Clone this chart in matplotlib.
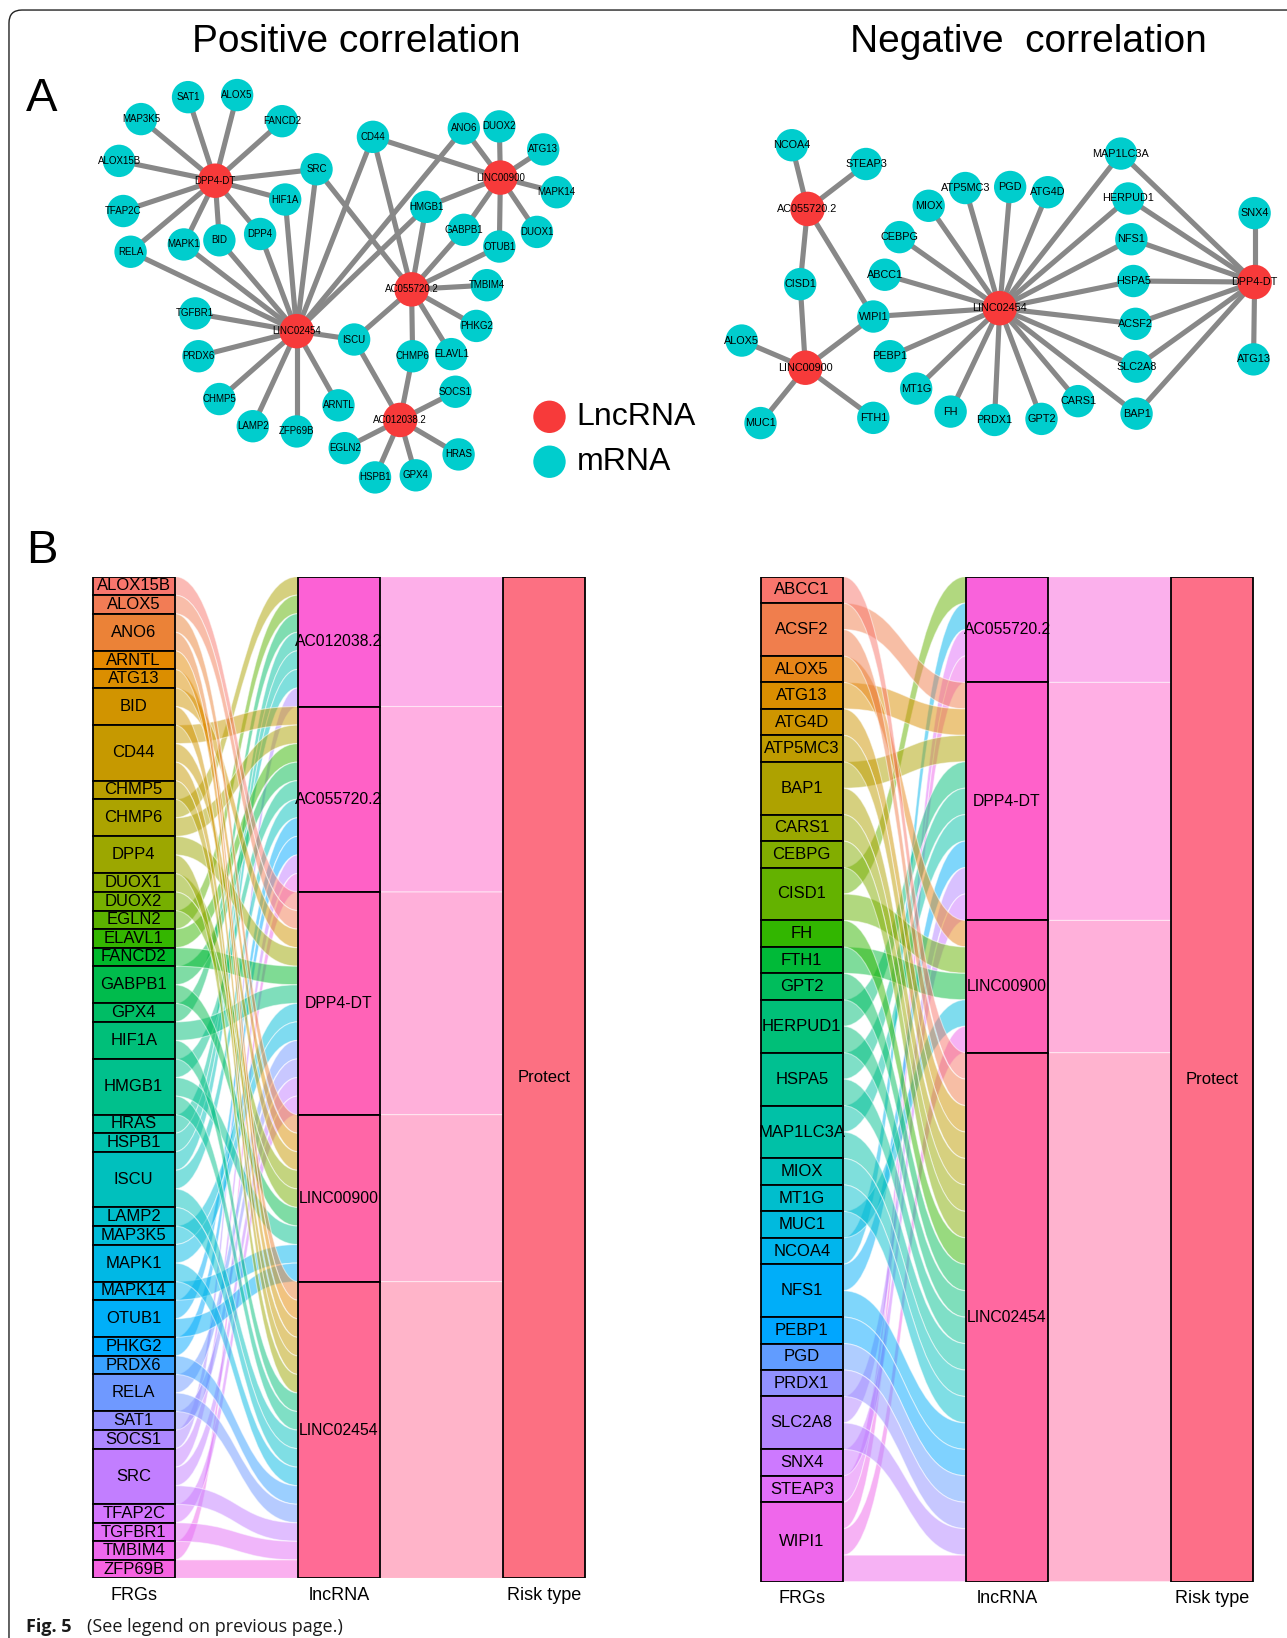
import numpy as np
import matplotlib.pyplot as plt
from matplotlib.patches import Rectangle, PathPatch, Circle
from matplotlib.path import Path

plt.rcParams['font.family'] = ['Liberation Sans', 'DejaVu Sans']

# ---- data: lncRNA -> correlated ferroptosis-related genes ----
pos_frgs = ['ALOX15B', 'ALOX5', 'ANO6', 'ARNTL', 'ATG13', 'BID', 'CD44', 'CHMP5',
            'CHMP6', 'DPP4', 'DUOX1', 'DUOX2', 'EGLN2', 'ELAVL1', 'FANCD2', 'GABPB1',
            'GPX4', 'HIF1A', 'HMGB1', 'HRAS', 'HSPB1', 'ISCU', 'LAMP2', 'MAP3K5',
            'MAPK1', 'MAPK14', 'OTUB1', 'PHKG2', 'PRDX6', 'RELA', 'SAT1', 'SOCS1',
            'SRC', 'TFAP2C', 'TGFBR1', 'TMBIM4', 'ZFP69B']
pos_lncs = ['AC012038.2', 'AC055720.2', 'DPP4-DT', 'LINC00900', 'LINC02454']
pos_links = {
    'AC012038.2': ['CHMP6', 'EGLN2', 'GPX4', 'HRAS', 'HSPB1', 'ISCU', 'SOCS1'],
    'AC055720.2': ['CD44', 'CHMP6', 'ELAVL1', 'GABPB1', 'HMGB1', 'ISCU', 'OTUB1',
                   'PHKG2', 'SRC', 'TMBIM4'],
    'DPP4-DT': ['ALOX15B', 'ALOX5', 'BID', 'DPP4', 'FANCD2', 'HIF1A', 'MAP3K5',
                'MAPK1', 'RELA', 'SAT1', 'SRC', 'TFAP2C'],
    'LINC00900': ['ANO6', 'ATG13', 'CD44', 'DUOX1', 'DUOX2', 'GABPB1', 'HMGB1',
                  'MAPK14', 'OTUB1'],
    'LINC02454': ['ANO6', 'ARNTL', 'BID', 'CD44', 'CHMP5', 'DPP4', 'HIF1A', 'HMGB1',
                  'ISCU', 'LAMP2', 'MAPK1', 'PRDX6', 'RELA', 'SRC', 'TGFBR1', 'ZFP69B'],
}

neg_frgs = ['ABCC1', 'ACSF2', 'ALOX5', 'ATG13', 'ATG4D', 'ATP5MC3', 'BAP1', 'CARS1',
            'CEBPG', 'CISD1', 'FH', 'FTH1', 'GPT2', 'HERPUD1', 'HSPA5', 'MAP1LC3A',
            'MIOX', 'MT1G', 'MUC1', 'NCOA4', 'NFS1', 'PEBP1', 'PGD', 'PRDX1',
            'SLC2A8', 'SNX4', 'STEAP3', 'WIPI1']
neg_lncs = ['AC055720.2', 'DPP4-DT', 'LINC00900', 'LINC02454']
neg_links = {
    'AC055720.2': ['CISD1', 'NCOA4', 'STEAP3', 'WIPI1'],
    'DPP4-DT': ['ACSF2', 'ATG13', 'BAP1', 'HERPUD1', 'HSPA5', 'MAP1LC3A', 'NFS1',
                'SLC2A8', 'SNX4'],
    'LINC00900': ['ALOX5', 'CISD1', 'FTH1', 'MUC1', 'WIPI1'],
    'LINC02454': ['ABCC1', 'ACSF2', 'ATG4D', 'ATP5MC3', 'BAP1', 'CARS1', 'CEBPG', 'FH',
                  'GPT2', 'HERPUD1', 'HSPA5', 'MAP1LC3A', 'MIOX', 'MT1G', 'NFS1',
                  'PEBP1', 'PGD', 'PRDX1', 'SLC2A8', 'WIPI1'],
}
risk_type = 'Protect'
axis_names = ['FRGs', 'lncRNA', 'Risk type']

# ---- network layouts (page units, 1232 x 1568 page) ----
pos_layout = {
    'DPP4-DT': (206, 173), 'LINC00900': (479, 170), 'AC055720.2': (394, 277),
    'LINC02454': (284, 317), 'AC012038.2': (383, 402),
    'SAT1': (180, 93), 'ALOX5': (227, 91), 'MAP3K5': (135, 114), 'FANCD2': (270, 116),
    'ALOX15B': (114, 154), 'SRC': (303, 162), 'CD44': (357, 131), 'ANO6': (444, 123),
    'DUOX2': (478, 121), 'ATG13': (520, 143), 'MAPK14': (533, 184), 'TFAP2C': (118, 202),
    'HIF1A': (273, 191), 'HMGB1': (408, 198), 'GABPB1': (444, 220), 'OTUB1': (478, 236),
    'DUOX1': (514, 222), 'RELA': (125, 241), 'MAPK1': (176, 234), 'BID': (210, 230),
    'DPP4': (249, 224), 'TMBIM4': (466, 273), 'TGFBR1': (187, 300), 'ISCU': (339, 325),
    'PHKG2': (456, 312), 'PRDX6': (190, 341), 'CHMP6': (395, 341), 'ELAVL1': (432, 339),
    'CHMP5': (210, 382), 'ARNTL': (324, 388), 'SOCS1': (436, 375), 'LAMP2': (242, 408),
    'ZFP69B': (284, 413), 'EGLN2': (330, 429), 'HRAS': (439, 435), 'HSPB1': (359, 457),
    'GPX4': (398, 455),
}
neg_layout = {
    'AC055720.2': (773, 200), 'LINC00900': (771, 352), 'LINC02454': (957, 295),
    'DPP4-DT': (1201, 270),
    'NCOA4': (758, 139), 'STEAP3': (829, 157), 'MAP1LC3A': (1073, 147),
    'HERPUD1': (1080, 190), 'SNX4': (1201, 204), 'MIOX': (889, 197),
    'ATP5MC3': (924, 180), 'PGD': (967, 179), 'ATG4D': (1003, 184), 'CEBPG': (861, 227),
    'NFS1': (1083, 229), 'ABCC1': (847, 263), 'HSPA5': (1085, 269), 'CISD1': (766, 272),
    'WIPI1': (836, 303), 'ACSF2': (1087, 310), 'ALOX5': (710, 326), 'PEBP1': (852, 341),
    'SLC2A8': (1088, 351), 'ATG13': (1200, 344), 'MT1G': (877, 372), 'FH': (910, 394),
    'PRDX1': (952, 402), 'GPT2': (997, 401), 'CARS1': (1032, 384), 'BAP1': (1088, 396),
    'MUC1': (728, 405), 'FTH1': (836, 400),
}

W, H = 1232, 1568
RED, CYAN, GREY = '#F73A3A', '#00CDCD', '#888888'


def hcl_hex(h, c=100, l=65):
    # polarLUV -> sRGB, same as R's hcl()
    hr = np.deg2rad(h)
    u, v = c * np.cos(hr), c * np.sin(hr)
    Xn, Yn, Zn = 95.047, 100.0, 108.883
    den = Xn + 15 * Yn + 3 * Zn
    un, vn = 4 * Xn / den, 9 * Yn / den
    Y = Yn * ((l + 16) / 116) ** 3
    up, vp = u / (13 * l) + un, v / (13 * l) + vn
    X = 9 * Y * up / (4 * vp)
    Z = -X / 3 - 5 * Y + 3 * Y / vp
    M = np.array([[3.240479, -1.537150, -0.498535],
                  [-0.969256, 1.875992, 0.041556],
                  [0.055648, -0.204043, 1.057311]])
    rgb = M @ (np.array([X, Y, Z]) / 100)
    out = []
    for x in rgb:
        x = 1.055 * x ** (1 / 2.4) - 0.055 if x > 0.00304 else 12.92 * x
        out.append(min(max(x, 0), 1))
    return '#%02X%02X%02X' % tuple(int(round(x * 255)) for x in out)


def hue_pal(n):
    return [hcl_hex(h) for h in np.linspace(15, 375, n + 1)[:-1]]


def draw_network(ax, links, layout, fs):
    for lnc, genes in links.items():
        for g in genes:
            (x0, y0), (x1, y1) = layout[lnc], layout[g]
            ax.plot([x0, x1], [y0, y1], color=GREY, lw=3.7, solid_capstyle='butt', zorder=1)
    genes = sorted({g for gs in links.values() for g in gs})
    for g in genes:
        x, y = layout[g]
        ax.add_patch(Circle((x, y), 15.5, color=CYAN, lw=0, zorder=2))
        ax.text(x, y, g, fontsize=fs, ha='center', va='center', zorder=4)
    for lnc in links:
        x, y = layout[lnc]
        ax.add_patch(Circle((x, y), 16.5, color=RED, lw=0, zorder=3))
        ax.text(x, y, lnc, fontsize=fs, ha='center', va='center', zorder=4)


def ribbon(ax, x0, x1, a0, b0, a1, b1, color):
    xm = (x0 + x1) / 2
    verts = [(x0, a0), (xm, a0), (xm, a1), (x1, a1), (x1, b1),
             (xm, b1), (xm, b0), (x0, b0), (x0, a0)]
    codes = [Path.MOVETO, Path.CURVE4, Path.CURVE4, Path.CURVE4, Path.LINETO,
             Path.CURVE4, Path.CURVE4, Path.CURVE4, Path.CLOSEPOLY]
    ax.add_patch(PathPatch(Path(verts, codes), facecolor=color, alpha=0.5,
                           edgecolor='white', lw=0.8, zorder=1))


def draw_alluvial(ax, frgs, lncs, links):
    strata = frgs + lncs + [risk_type]
    col = dict(zip(strata, hue_pal(len(strata))))
    pairs = [(g, l) for l in lncs for g in links[l]]
    fi = {g: i for i, g in enumerate(frgs)}
    li = {l: i for i, l in enumerate(lncs)}
    total = len(pairs)
    w = 0.4

    def stack(names, key):
        tops, y = {}, 0
        for n in names:
            tops[n] = y
            y += sum(1 for p in pairs if p[key] == n)
        return tops

    ftop, ltop = stack(frgs, 0), stack(lncs, 1)
    left, right = {}, {}
    cur = dict(ftop)
    for p in sorted(pairs, key=lambda p: (fi[p[0]], li[p[1]])):
        left[p] = cur[p[0]]
        cur[p[0]] += 1
    cur = dict(ltop)
    for p in sorted(pairs, key=lambda p: (li[p[1]], fi[p[0]])):
        right[p] = cur[p[1]]
        cur[p[1]] += 1

    for p in pairs:
        ribbon(ax, 1 + w / 2, 2 - w / 2, left[p], left[p] + 1,
               right[p], right[p] + 1, col[p[0]])
    for l in lncs:
        n = len(links[l])
        ribbon(ax, 2 + w / 2, 3 - w / 2, ltop[l], ltop[l] + n, ltop[l], ltop[l] + n, col[l])

    def boxes(x, names, tops, sizes, fs):
        for n in names:
            ax.add_patch(Rectangle((x - w / 2, tops[n]), w, sizes[n], facecolor=col[n],
                                   edgecolor='black', lw=1.3, zorder=3))
            ax.text(x, tops[n] + sizes[n] / 2, n, ha='center', va='center',
                    fontsize=fs, zorder=4)

    boxes(1, frgs, ftop, {g: sum(1 for p in pairs if p[0] == g) for g in frgs}, 12)
    boxes(2, lncs, ltop, {l: len(links[l]) for l in lncs}, 11.3)
    boxes(3, [risk_type], {risk_type: 0}, {risk_type: total}, 12)

    for i, name in enumerate(axis_names):
        ax.annotate(name, xy=(i + 1, 0), xycoords=('data', 'axes fraction'),
                    xytext=(0, -6), textcoords='offset points', ha='center', va='top',
                    fontsize=13)
    ax.set_xlim(0.55, 3.45)
    ax.set_ylim(total, 0)
    ax.axis('off')


fig = plt.figure(figsize=(12.87, 16.38), dpi=100)

page = fig.add_axes([0, 0, 1, 1])
page.set_xlim(0, W)
page.set_ylim(H, 0)
page.axis('off')

# frame with rounded top-left corner
frame = Path([(8.6, H + 5), (8.6, 22), (8.6, 9.6), (21, 9.6), (W + 5, 9.6)],
             [Path.MOVETO, Path.LINETO, Path.CURVE3, Path.CURVE3, Path.LINETO])
page.add_patch(PathPatch(frame, fill=False, edgecolor='#222222', lw=1.0))

page.text(341, 40, 'Positive correlation', fontsize=28, ha='center', va='center')
page.text(984, 40, 'Negative  correlation', fontsize=28, ha='center', va='center')
page.text(40, 95, 'A', fontsize=34, ha='center', va='center')
page.text(40, 527, 'B', fontsize=34, ha='center', va='center')

draw_network(page, pos_links, pos_layout, 7)
draw_network(page, neg_links, neg_layout, 7.8)

# legend
for yy, c, lab in [(399, RED, 'LncRNA'), (442, CYAN, 'mRNA')]:
    page.add_patch(Circle((526, yy), 15.5, color=c, lw=0))
    page.text(552, yy, lab, fontsize=23, ha='left', va='center')

page.text(25, 1557, 'Fig. 5', fontsize=13, fontweight='bold', family=['Open Sans', 'DejaVu Sans'],
          ha='left', va='center', color='#1a1a1a')
page.text(83, 1557, '(See legend on previous page.)', fontsize=13,
          family=['Open Sans', 'DejaVu Sans'], ha='left', va='center', color='#1a1a1a')

# alluvial panels
for x0, y1, frgs, lncs, links in [(128, 1511, pos_frgs, pos_lncs, pos_links),
                                  (767.5, 1514, neg_frgs, neg_lncs, neg_links)]:
    left = x0 - 0.45 * 196.5
    ax = fig.add_axes([left / W, 1 - y1 / H, 2.9 * 196.5 / W, (y1 - 552) / H])
    draw_alluvial(ax, frgs, lncs, links)

fig.savefig('out.png', dpi=100)
